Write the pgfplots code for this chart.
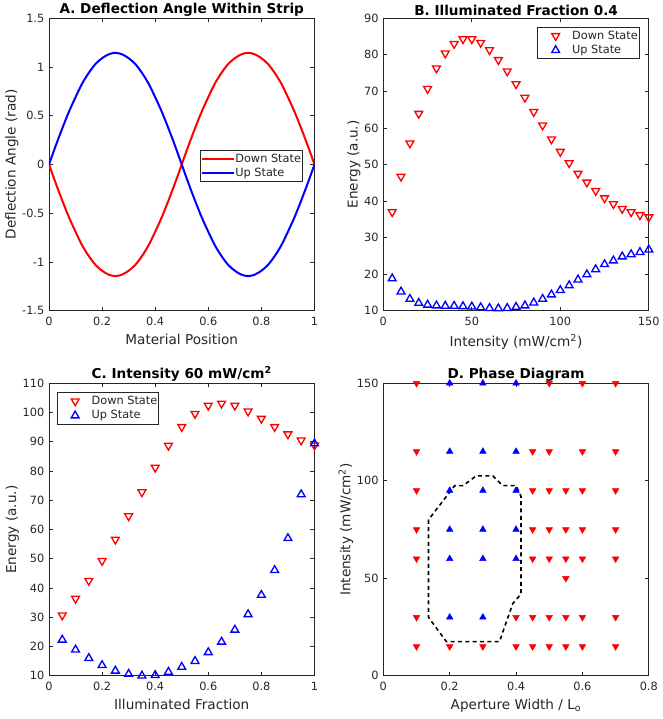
\documentclass[border=0pt]{standalone}
\usepackage{pgfplots}
\pgfplotsset{compat=1.18}
\usepackage{fontspec}
\setmainfont{DejaVu Sans}
\definecolor{axgray}{gray}{0.15}
\pgfplotsset{
  myaxis/.style={
    scale only axis, width=199.1pt, height=219.4pt, anchor=south west,
    axis line style={axgray, line width=0.5pt},
    tick style={axgray, line width=0.5pt},
    tick align=inside, major tick length=3pt,
    font=\fontsize{8.5}{10}\selectfont,
    tick label style={font=\fontsize{8.5}{10}\selectfont, text=axgray},
    xticklabel style={yshift=-1pt},
    label style={font=\fontsize{10.2}{12}\selectfont, text=axgray},
    ylabel style={yshift=-4pt},
    title style={font=\bfseries\fontsize{10.2}{12}\selectfont, text=black, yshift=-8pt},
    /pgf/number format/assume math mode=true,
    legend style={draw=axgray, line width=0.5pt, font=\fontsize{8.5}{10}\selectfont, text=axgray,
      inner xsep=0.5pt, inner ysep=1pt, row sep=0pt, nodes={inner xsep=0.5pt, inner ysep=1.5pt}},
    legend cell align=left,
  },
  markleg/.style={legend image code/.code={\path (0pt,0pt) (23.75pt,0pt); \draw[##1] plot coordinates {(12.4pt,0pt)};}},
  downmark/.style={only marks, mark=triangle, mark size=3.4pt, red, line width=1pt, mark options={rotate=180}},
  upmark/.style={only marks, mark=triangle, mark size=3.4pt, blue, line width=1pt},
}
\begin{document}
\begin{tikzpicture}
\useasboundingbox (0,0) rectangle (496.5pt,539.25pt);

% ---------------- A ----------------
\begin{axis}[myaxis, at={(36.75pt,306.2pt)},
  xmin=0, xmax=1, ymin=-1.5, ymax=1.5,
  xtick={0,0.2,0.4,0.6,0.8,1}, ytick={-1.5,-1,-0.5,0,0.5,1,1.5},
  title={A. Deflection Angle Within Strip},
  xlabel={Material Position}, ylabel={Deflection Angle (rad)},
  legend style={at={(0.570,0.5496)}, anchor=north west},
  legend image code/.code={\draw[#1] (0pt,0pt) -- (23.5pt,0pt);},
]
\addplot[red, line width=1.5pt, smooth] coordinates {
(0,0) (0.025,-0.19) (0.05,-0.37) (0.075,-0.54) (0.1,-0.69) (0.125,-0.83) (0.15,-0.94) (0.175,-1.03) (0.2,-1.09) (0.225,-1.13) (0.25,-1.145)
(0.275,-1.13) (0.3,-1.09) (0.325,-1.03) (0.35,-0.94) (0.375,-0.83) (0.4,-0.69) (0.425,-0.54) (0.45,-0.37) (0.475,-0.19) (0.5,0)
(0.525,0.19) (0.55,0.37) (0.575,0.54) (0.6,0.69) (0.625,0.83) (0.65,0.94) (0.675,1.03) (0.7,1.09) (0.725,1.13) (0.75,1.145)
(0.775,1.13) (0.8,1.09) (0.825,1.03) (0.85,0.94) (0.875,0.83) (0.9,0.69) (0.925,0.54) (0.95,0.37) (0.975,0.19) (1,0)};
\addlegendentry{Down State}
\addplot[blue, line width=1.5pt, smooth] coordinates {
(0,0) (0.025,0.19) (0.05,0.37) (0.075,0.54) (0.1,0.69) (0.125,0.83) (0.15,0.94) (0.175,1.03) (0.2,1.09) (0.225,1.13) (0.25,1.145)
(0.275,1.13) (0.3,1.09) (0.325,1.03) (0.35,0.94) (0.375,0.83) (0.4,0.69) (0.425,0.54) (0.45,0.37) (0.475,0.19) (0.5,0)
(0.525,-0.19) (0.55,-0.37) (0.575,-0.54) (0.6,-0.69) (0.625,-0.83) (0.65,-0.94) (0.675,-1.03) (0.7,-1.09) (0.725,-1.13) (0.75,-1.145)
(0.775,-1.13) (0.8,-1.09) (0.825,-1.03) (0.85,-0.94) (0.875,-0.83) (0.9,-0.69) (0.925,-0.54) (0.95,-0.37) (0.975,-0.19) (1,0)};
\addlegendentry{Up State}
\end{axis}

% ---------------- B ----------------
\begin{axis}[myaxis, markleg, at={(287.5pt,306.2pt)},
  xmin=0, xmax=150, ymin=10, ymax=90,
  xtick={0,50,100,150}, ytick={10,20,30,40,50,60,70,80,90},
  title={B. Illuminated Fraction 0.4},
  xlabel={Intensity (mW/cm\textsuperscript{2})}, ylabel={Energy (a.u.)},
  legend style={at={(0.965,0.970)}, anchor=north east},
]
\addplot[downmark] coordinates {
(5,37.0) (10,46.7) (15,55.8) (20,63.9) (25,70.7) (30,76.3) (35,80.4) (40,83.0) (45,84.3) (50,84.3)
(55,83.3) (60,81.3) (65,78.6) (70,75.5) (75,72.0) (80,68.3) (85,64.4) (90,60.7) (95,56.9) (100,53.5)
(105,50.4) (110,47.5) (115,45.1) (120,42.8) (125,40.8) (130,39.2) (135,37.9) (140,37.0) (145,36.2) (150,35.6)};
\addlegendentry{Down State}
\addplot[upmark] coordinates {
(5,18.8) (10,15.2) (15,13.2) (20,12.1) (25,11.6) (30,11.4) (35,11.3) (40,11.3) (45,11.2) (50,11.1)
(55,10.9) (60,10.7) (65,10.6) (70,10.7) (75,11.0) (80,11.4) (85,12.2) (90,13.2) (95,14.4) (100,15.6)
(105,16.9) (110,18.5) (115,19.9) (120,21.3) (125,22.7) (130,23.7) (135,24.8) (140,25.4) (145,26.0) (150,26.7)};
\addlegendentry{Up State}
\end{axis}

% ---------------- C ----------------
\begin{axis}[myaxis, markleg, at={(36.75pt,32.4pt)},
  xmin=0, xmax=1, ymin=10, ymax=110,
  xtick={0,0.2,0.4,0.6,0.8,1}, ytick={10,20,30,40,50,60,70,80,90,100,110},
  title={C. Intensity 60 mW/cm\textsuperscript{2}},
  xlabel={Illuminated Fraction}, ylabel={Energy (a.u.)},
  legend style={at={(0.030,0.969)}, anchor=north west},
]
\addplot[downmark] coordinates {
(0.05,30.7) (0.1,36.4) (0.15,42.5) (0.2,49.3) (0.25,56.6) (0.3,64.6) (0.35,72.8) (0.4,81.2) (0.45,88.7) (0.5,95.1)
(0.55,99.6) (0.6,102.4) (0.65,103.1) (0.7,102.4) (0.75,100.4) (0.8,97.9) (0.85,95.1) (0.9,92.6) (0.95,90.5) (1.0,88.8)};
\addlegendentry{Down State}
\addplot[upmark] coordinates {
(0.05,22.3) (0.1,18.9) (0.15,16.0) (0.2,13.6) (0.25,11.7) (0.3,10.6) (0.35,10.0) (0.4,10.2) (0.45,11.3) (0.5,13.0)
(0.55,15.0) (0.6,18.0) (0.65,21.6) (0.7,25.7) (0.75,31.0) (0.8,37.6) (0.85,46.1) (0.9,57.0) (0.95,72.0) (1.0,89.4)};
\addlegendentry{Up State}
\end{axis}

% ---------------- D ----------------
\begin{axis}[myaxis, at={(287.5pt,32.4pt)},
  xmin=0, xmax=0.8, ymin=0, ymax=150,
  xtick={0,0.2,0.4,0.6,0.8}, ytick={0,50,100,150},
  title={D. Phase Diagram},
  xlabel={Aperture Width / L\textsubscript{o}}, ylabel={Intensity (mW/cm\textsuperscript{2})},
  clip=false,
]
\addplot[only marks, mark=triangle*, mark size=2.8pt, red, mark options={rotate=180, fill=red, draw=red}] coordinates {
(0.1,150) (0.5,150) (0.6,150) (0.7,150)
(0.1,115) (0.45,115) (0.5,115) (0.6,115) (0.7,115)
(0.1,95) (0.45,95) (0.5,95) (0.55,95) (0.6,95) (0.7,95)
(0.1,75) (0.45,75) (0.5,75) (0.55,75) (0.6,75) (0.7,75)
(0.1,60) (0.45,60) (0.5,60) (0.55,60) (0.6,60) (0.7,60)
(0.55,50)
(0.1,30) (0.4,30) (0.45,30) (0.5,30) (0.55,30) (0.6,30) (0.7,30)
(0.1,15) (0.2,15) (0.3,15) (0.4,15) (0.45,15) (0.5,15) (0.55,15) (0.6,15) (0.7,15)};
\addplot[only marks, mark=triangle*, mark size=2.8pt, blue, mark options={fill=blue, draw=blue}] coordinates {
(0.2,150) (0.3,150) (0.4,150)
(0.2,115) (0.3,115) (0.4,115)
(0.2,95) (0.3,95) (0.4,95)
(0.2,75) (0.3,75) (0.4,75)
(0.2,60) (0.3,60) (0.4,60)
(0.2,30) (0.3,30)};
\addplot[black, line width=1.2pt, dash pattern=on 3pt off 2.5pt] coordinates {
(0.136,80) (0.136,30) (0.19,17.5) (0.35,17.5) (0.39,37) (0.415,42) (0.415,92) (0.40,97.5) (0.36,97.5)
(0.33,102.5) (0.28,102.5) (0.24,97.5) (0.215,97.5) (0.136,80)};
\end{axis}
\end{tikzpicture}
\end{document}
